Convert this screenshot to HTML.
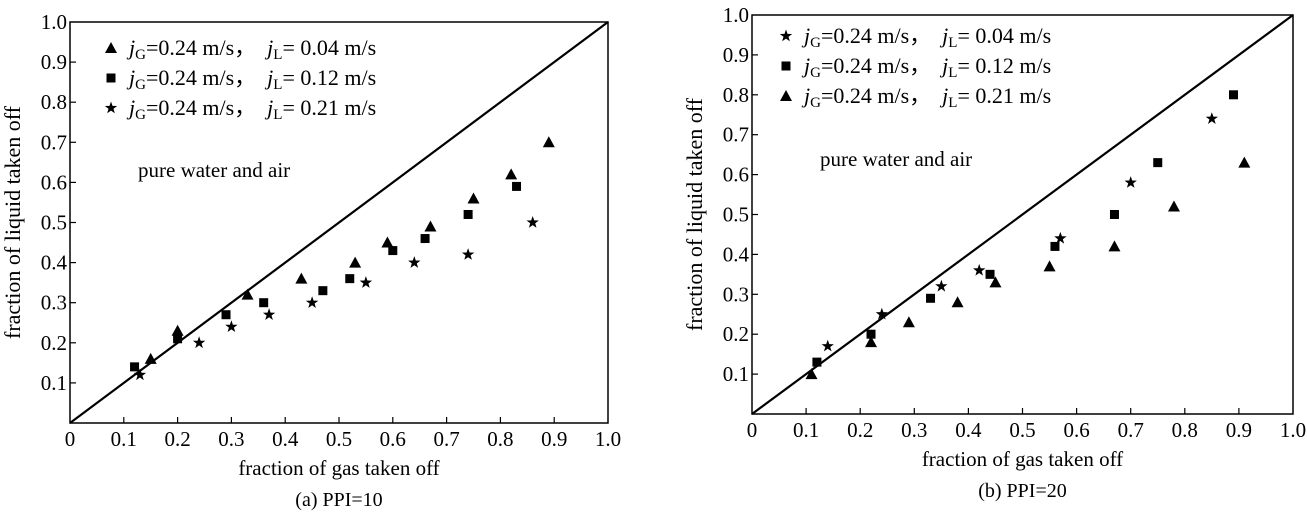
<!DOCTYPE html>
<html><head><meta charset="utf-8"><style>
body{margin:0;background:#fff}
svg{display:block;font-family:"Liberation Serif","Times New Roman",serif}
</style></head><body>
<svg id="c" width="1307" height="520" viewBox="0 0 1307 520"></svg>
<script>
const ticks=[0,0.1,0.2,0.3,0.4,0.5,0.6,0.7,0.8,0.9,1.0];
const tickLabels=["0","0.1","0.2","0.3","0.4","0.5","0.6","0.7","0.8","0.9","1.0"];
const aTriX=[0.15,0.2,0.33,0.43,0.53,0.59,0.67,0.75,0.82,0.89];
const aTriY=[0.16,0.23,0.32,0.36,0.40,0.45,0.49,0.56,0.62,0.70];
const aSqX=[0.12,0.2,0.29,0.36,0.47,0.52,0.6,0.66,0.74,0.83];
const aSqY=[0.14,0.21,0.27,0.30,0.33,0.36,0.43,0.46,0.52,0.59];
const aStX=[0.13,0.24,0.3,0.37,0.45,0.55,0.64,0.74,0.86];
const aStY=[0.12,0.20,0.24,0.27,0.30,0.35,0.40,0.42,0.50];
const bStX=[0.14,0.24,0.35,0.42,0.57,0.7,0.85];
const bStY=[0.17,0.25,0.32,0.36,0.44,0.58,0.74];
const bSqX=[0.12,0.22,0.33,0.44,0.56,0.67,0.75,0.89];
const bSqY=[0.13,0.20,0.29,0.35,0.42,0.50,0.63,0.80];
const bTriX=[0.11,0.22,0.29,0.38,0.45,0.55,0.67,0.78,0.91];
const bTriY=[0.10,0.18,0.23,0.28,0.33,0.37,0.42,0.52,0.63];

const svg=document.getElementById('c');
const NS='http://www.w3.org/2000/svg';
function mk(t,a,p){const e=document.createElementNS(NS,t);for(const k in a)e.setAttribute(k,a[k]);(p||svg).appendChild(e);return e;}
function marker(g,type,x,y){
  let e;
  if(type==='tri'){e=mk('polygon',{points:`${x},${y-6} ${x-6},${y+5} ${x+6},${y+5}`,fill:'#000'},g);}
  else if(type==='sq'){e=mk('rect',{x:x-4.5,y:y-4.5,width:9,height:9,fill:'#000'},g);}
  else{let p=[];for(let i=0;i<10;i++){const r=i%2?2.6:6.5,a=-Math.PI/2+i*Math.PI/5;p.push((x+r*Math.cos(a)).toFixed(1)+','+(y+r*Math.sin(a)).toFixed(1));}
    e=mk('polygon',{points:p.join(' '),fill:'#000'},g);}
  return e;
}
function panel(id,L,R,T,B,series,legendOrder,legX,legY,noteX,noteY,caption){
  const g=mk('g',{});
  
  
  const sx=v=>L+v*(R-L), sy=v=>B-v*(B-T);
  const fr=mk('rect',{x:L,y:T,width:R-L,height:B-T,fill:'none',stroke:'#000','stroke-width':1.5},g);
  
  
  ticks.forEach((t,i)=>{
    if(i>0&&i<10){mk('line',{x1:sx(t),x2:sx(t),y1:B,y2:B-6,stroke:'#000','stroke-width':1.2},g);
      mk('line',{x1:L,x2:L+6,y1:sy(t),y2:sy(t),stroke:'#000','stroke-width':1.2},g);}
    const xt=mk('text',{x:sx(t),y:B+23,'font-size':21,'text-anchor':'middle'},g);xt.textContent=tickLabels[i];
    
    
    if(i>0){const yt=mk('text',{x:L-3,y:sy(t)+7,'font-size':21,'text-anchor':'end'},g);yt.textContent=tickLabels[i];
      
      }
  });
  const dl=mk('line',{x1:sx(0),y1:sy(0),x2:sx(1),y2:sy(1),stroke:'#000','stroke-width':2.2},g);
  
  
  series.forEach(s=>{
    s.xs.forEach((v,i)=>{const m=marker(g,s.type,sx(v),sy(s.ys[i]));
      
      });
  });
  const jl=['0.04','0.12','0.21'];
  legendOrder.forEach((t,i)=>{
    const y=legY+i*30;
    marker(g,t,legX,y-7);
    const tx=mk('text',{x:legX+18,y:y,'font-size':22},g);
    tx.innerHTML=`<tspan font-style="italic">j</tspan><tspan font-size="15" dy="4">G</tspan><tspan dy="-4" xml:space="preserve">=0.24 m/s，  </tspan><tspan font-style="italic">j</tspan><tspan font-size="15" dy="4">L</tspan><tspan dy="-4">= ${jl[i]} m/s</tspan>`;
    
    
  });
  const n=mk('text',{x:noteX,y:noteY,'font-size':21},g);n.textContent='pure water and air';
  
  
  const xa=mk('text',{x:(L+R)/2,y:B+52,'font-size':21,'text-anchor':'middle'},g);xa.textContent='fraction of gas taken off';
  
  
  const ya=mk('text',{x:0,y:0,'font-size':22,'text-anchor':'middle',transform:`translate(${L-50},${(T+B)/2}) rotate(-90)`},g);ya.textContent='fraction of liquid taken off';
  
  
  const cp=mk('text',{x:(L+R)/2,y:B+83,'font-size':20,'text-anchor':'middle'},g);cp.textContent=caption;
  
  
}
panel('chart-a',70,608,22,423,
 [{type:'tri',xs:aTriX,ys:aTriY},{type:'sq',xs:aSqX,ys:aSqY},{type:'star',xs:aStX,ys:aStY}],
 ['tri','sq','star'],111,55,138,177,'(a) PPI=10');
panel('chart-b',752,1293,15,414,
 [{type:'star',xs:bStX,ys:bStY},{type:'sq',xs:bSqX,ys:bSqY},{type:'tri',xs:bTriX,ys:bTriY}],
 ['star','sq','tri'],786,43,820,166,'(b) PPI=20');
</script>
</body></html>
